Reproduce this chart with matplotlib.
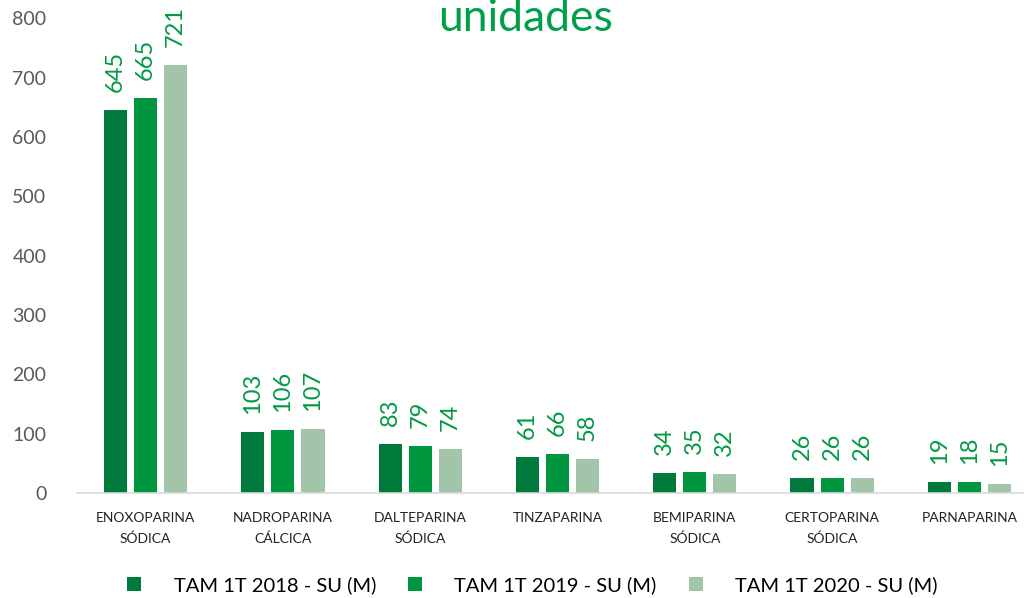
import numpy as np
import matplotlib
matplotlib.use("Agg")
import matplotlib.pyplot as plt

plt.rcParams['font.family'] = ['Lato', 'DejaVu Sans']

categories = ["ENOXOPARINA\nSÓDICA", "NADROPARINA\nCÁLCICA", "DALTEPARINA\nSÓDICA",
              "TINZAPARINA", "BEMIPARINA\nSÓDICA", "CERTOPARINA\nSÓDICA", "PARNAPARINA"]
series_names = ["TAM 1T 2018 - SU (M)", "TAM 1T 2019 - SU (M)", "TAM 1T 2020 - SU (M)"]
vals_2018 = [645, 103, 83, 61, 34, 26, 19]
vals_2019 = [665, 106, 79, 66, 35, 26, 18]
vals_2020 = [721, 107, 74, 58, 32, 26, 15]
colors = ["#007a3a", "#00963f", "#a2c5a9"]
label_color = "#009a44"

fig = plt.figure(figsize=(10.24, 5.98), dpi=100)
ax = fig.add_axes([0.0752, 0.1756, 0.9385, 0.794])

x = np.arange(len(categories))
w = 0.168
step = 0.219
series = [vals_2018, vals_2019, vals_2020]
for i, vals in enumerate(series):
    bars = ax.bar(x + (i - 1) * step, vals, width=w, color=colors[i], label=series_names[i])
    for b, v in zip(bars, vals):
        ax.annotate(str(v), (b.get_x() + b.get_width() / 2, v), xytext=(0, 13),
                    textcoords="offset points", rotation=90, ha="center", va="bottom",
                    color=label_color, fontsize=17)

ax.set_xlim(-0.5, len(categories) - 0.5)
ax.set_ylim(0, 800)
ax.set_yticks(range(0, 801, 100))
ax.set_xticks(x)
ax.set_xticklabels(categories, fontsize=10, color="#222222", linespacing=1.8)
ax.tick_params(axis="y", labelsize=14, labelcolor="#595959", length=0, pad=22)
ax.tick_params(axis="x", length=0, pad=14)
for s in ["top", "right", "left"]:
    ax.spines[s].set_visible(False)
ax.spines["bottom"].set_color("#d9d9d9")
ax.spines["bottom"].set_linewidth(1.2)

fig.text(0.513, 0.948, "unidades", ha="center", va="baseline", color="#00a04a", fontsize=32)

handles, labels = ax.get_legend_handles_labels()
fig.legend(handles, labels, loc="lower center", bbox_to_anchor=(0.52, -0.024), ncol=3,
           frameon=False, fontsize=14.5, handlelength=0.7, handleheight=0.7,
           columnspacing=1.6, handletextpad=1.6)

fig.savefig("out.png", dpi=100)
